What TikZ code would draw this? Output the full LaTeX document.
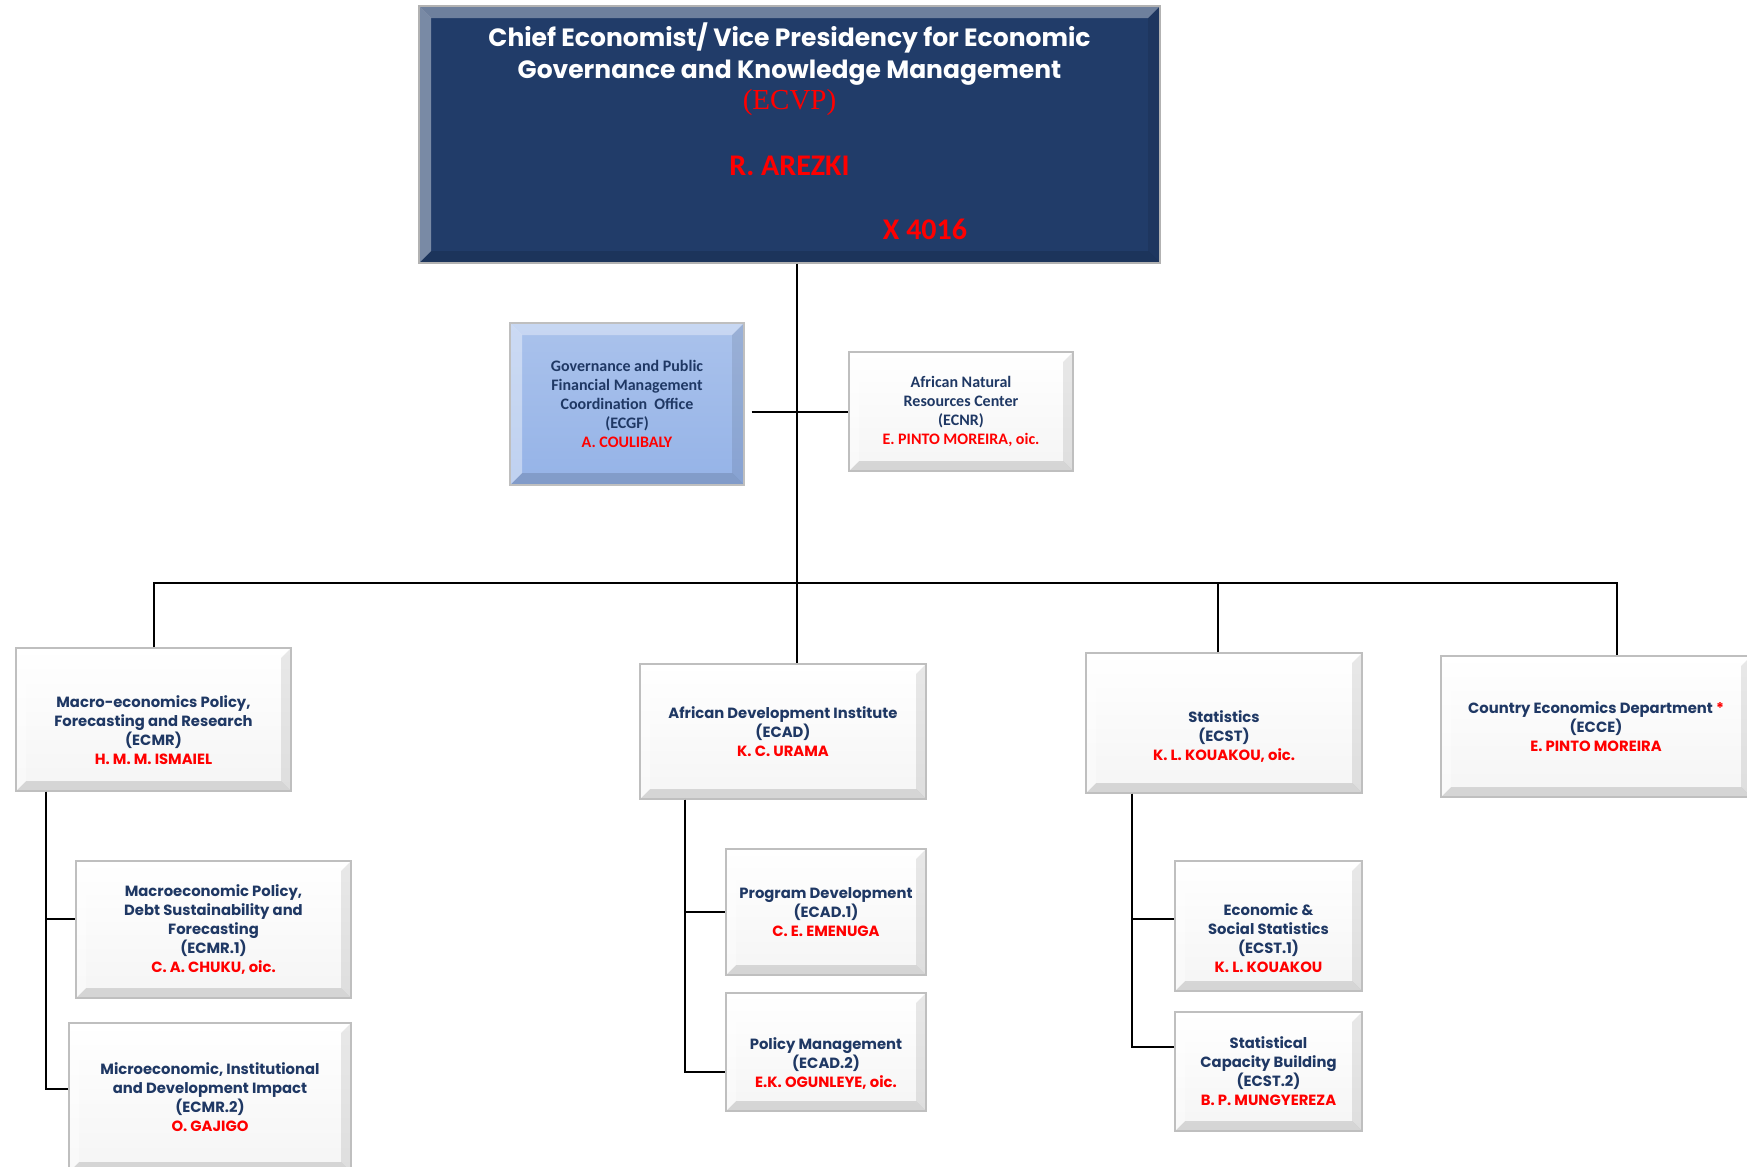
\documentclass[tikz,border=0pt]{standalone}
\usepackage{fontspec}
\setmainfont{Poppins}
\newfontfamily\calibri{Carlito}
\newfontfamily\timesfont{Liberation Serif}
\usetikzlibrary{positioning}
\usetikzlibrary{calc}

\definecolor{navytext}{RGB}{31,56,100}
\definecolor{vpblue}{RGB}{33,60,105}
\definecolor{ecgfblue}{RGB}{149,179,231}
\definecolor{namered}{RGB}{255,0,0}

\newcommand{\unitfont}{\fontsize{7.4}{9.5}\selectfont\bfseries}
\newcommand{\officefont}{\calibri\fontsize{8}{9.5}\selectfont\bfseries}
\newcommand{\headname}[1]{\textcolor{namered}{#1}}
\newcommand{\textdrop}[1]{\rule{0pt}{#1}}

\tikzset{
  bevel/.style={path picture={
    \path (path picture bounding box.north west) coordinate (p1)
          (path picture bounding box.north east) coordinate (p2)
          (path picture bounding box.south east) coordinate (p3)
          (path picture bounding box.south west) coordinate (p4);
    \fill[white,opacity=.35] (p1) -- (p2) -- ([shift={(-#1,-#1)}]p2) -- ([shift={(#1,-#1)}]p1) -- cycle;
    \fill[black,opacity=.09] (p2) -- (p3) -- ([shift={(-#1,#1)}]p3) -- ([shift={(-#1,-#1)}]p2) -- cycle;
    \fill[black,opacity=.13] (p3) -- (p4) -- ([shift={(#1,#1)}]p4) -- ([shift={(-#1,#1)}]p3) -- cycle;
    \fill[white,opacity=.4] (p4) -- (p1) -- ([shift={(#1,-#1)}]p1) -- ([shift={(#1,#1)}]p4) -- cycle;
  }},
  bevel/.default=5pt,
  unit/.style={draw=gray!50, line width=0.7pt, top color=white, bottom color=gray!8,
    bevel, align=center, text=navytext, font=\unitfont, inner sep=0pt},
  office/.style={unit, font=\officefont},
  vpbox/.style={draw=gray!60, line width=0.7pt, fill=vpblue, bevel=6pt},
  link/.style={draw=black, line width=1pt}
}

\begin{document}
\begin{tikzpicture}[x=0.5pt,y=-0.5pt]

	\useasboundingbox (0,0) rectangle (1747,1167);

	% vice presidency
	\node [vpbox, minimum width=370.5pt, minimum height=128.5pt] (ecvp) at (789.5,134.5) {};
	\node [align=center, text=white, font=\fontsize{12.5}{16}\selectfont\bfseries] (vptitle) at (789.5,54)
		{Chief Economist/ Vice Presidency for Economic\\Governance and Knowledge Management};
	\node [text=namered, font=\timesfont\fontsize{14.5}{16}\selectfont] (vpcode) at (789.5,102.5) {(ECVP)};
	\node [text=namered, font=\calibri\fontsize{15}{17}\selectfont\bfseries] (vpname) at (789.5,166) {R. AREZKI};
	\node [text=namered, font=\calibri\fontsize{15}{17}\selectfont\bfseries] (vpext) at (925,229.5) {X 4016};

	% offices beside the trunk
	\node [office, top color=ecgfblue!80!white, bottom color=ecgfblue, bevel=6pt,
		minimum width=117pt, minimum height=81pt] (ecgf) at (627,404)
		{Governance and Public\\Financial Management\\Coordination\ \ Office\\(ECGF)\\\headname{A. COULIBALY}};
	\node [office, minimum width=112pt, minimum height=59.5pt] (ecnr) at (961,411.5)
		{African Natural\\Resources Center\\(ECNR)\\\headname{E. PINTO MOREIRA, oic.}};

	% departments
	\node [unit, minimum width=137.5pt, minimum height=71.5pt] (ecmr) at (153.5,719.5)
		{\textdrop{17pt}Macro-economics Policy,\\Forecasting and Research\\(ECMR)\\\headname{H. M. M. ISMAIEL}};
	\node [unit, minimum width=143pt, minimum height=67.5pt] (ecad) at (783,731.5)
		{African Development Institute\\(ECAD)\\\headname{K. C. URAMA}};
	\node [unit, minimum width=138pt, minimum height=70pt] (ecst) at (1224,723)
		{\textdrop{19pt}Statistics\\(ECST)\\\headname{K. L. KOUAKOU, oic.}};
	\node [unit, minimum width=155pt, minimum height=70.5pt] (ecce) at (1596,726.5)
		{Country Economics Department \headname{*}\\(ECCE)\\\headname{E. PINTO MOREIRA}};

	% divisions
	\node [unit, minimum width=137.5pt, minimum height=68.5pt] (ecmr1) at (213.5,929.5)
		{Macroeconomic Policy,\\Debt Sustainability and\\Forecasting\\(ECMR.1)\\\headname{C. A. CHUKU, oic.}};
	\node [unit, minimum width=141pt, minimum height=74.5pt] (ecmr2) at (210,1097.5)
		{Microeconomic, Institutional\\and Development Impact\\(ECMR.2)\\\headname{O. GAJIGO}};
	\node [unit, minimum width=100pt, minimum height=63pt] (ecad1) at (826,912)
		{Program Development\\(ECAD.1)\\\headname{C. E. EMENUGA}};
	\node [unit, minimum width=100pt, minimum height=59pt] (ecad2) at (826,1052)
		{\textdrop{17pt}Policy Management\\(ECAD.2)\\\headname{E.K. OGUNLEYE, oic.}};
	\node [unit, minimum width=93.5pt, minimum height=65pt] (ecst1) at (1268.5,926)
		{\textdrop{18pt}Economic \&\\Social Statistics\\(ECST.1)\\\headname{K. L. KOUAKOU}};
	\node [unit, minimum width=93.5pt, minimum height=59.5pt] (ecst2) at (1268.5,1071.5)
		{Statistical\\Capacity Building\\(ECST.2)\\\headname{B. P. MUNGYEREZA}};

	% trunk and bus
	\coordinate (bus) at (797,583);
	\draw [link] (ecvp.south -| bus) -- (ecad.north -| bus);
	\draw [link] ([xshift=3.5pt]ecgf.east |- ecnr.west) -- (ecnr.west);
	\draw [link] (ecmr.north) |- (bus) -| ([xshift=10.5pt]ecce.north);
	\draw [link] ([xshift=-3pt]ecst.north) -- ([xshift=-3pt]ecst.north |- bus);

	% spines to the divisions
	\coordinate (mrspine) at ([xshift=15.5pt]ecmr.south west);
	\draw [link] (mrspine) |- ([yshift=5.25pt]ecmr1.west);
	\draw [link] (mrspine) |- ([yshift=4.25pt]ecmr2.west);

	\coordinate (adspine) at ([xshift=23pt]ecad.south west);
	\draw [link] (adspine) |- (ecad1.west);
	\draw [link] (adspine) |- ([yshift=-10pt]ecad2.west);

	\coordinate (stspine) at ([xshift=23.5pt]ecst.south west);
	\draw [link] (stspine) |- ([yshift=3.5pt]ecst1.west);
	\draw [link] (stspine) |- ([yshift=12.25pt]ecst2.west);

\end{tikzpicture}
\end{document}
